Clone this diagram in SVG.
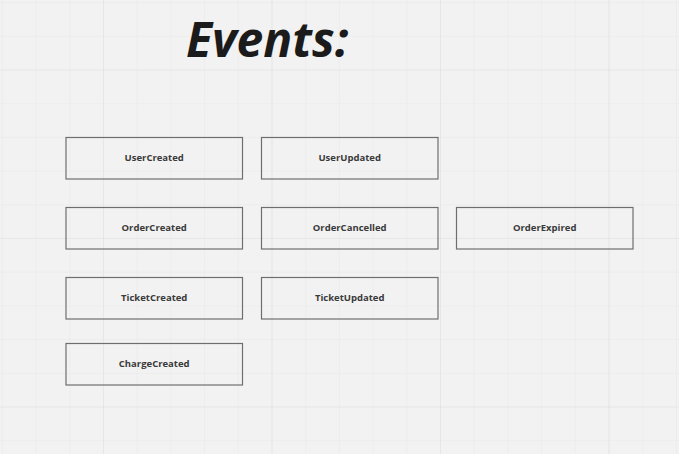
<svg xmlns="http://www.w3.org/2000/svg" width="679" height="454" viewBox="0 0 679 454">
<defs>
<pattern id="minor" x="1.9" y="2.1" width="33.7" height="33.7" patternUnits="userSpaceOnUse">
<path d="M0 0H33.7M0 0V33.7" fill="none" stroke="#e7e7e7" stroke-width="1"/>
</pattern>
<pattern id="major" x="103" y="69.5" width="168.5" height="168.5" patternUnits="userSpaceOnUse">
<path d="M0 0H168.5M0 0V168.5" fill="none" stroke="#e1e1e1" stroke-width="1.2"/>
</pattern>
</defs>
<style>
.box{fill:none;stroke:#6e6e6e;stroke-width:1.2}
.lbl{font-family:"Open Sans","Noto Sans",sans-serif;font-size:9.5px;font-weight:700;fill:#3a3a3a;text-anchor:middle;dominant-baseline:central}
.title{font-family:"Open Sans","Noto Sans",sans-serif;font-size:48px;font-weight:700;font-style:italic;fill:#1b1b1b}
</style>
<rect width="679" height="454" fill="#f2f2f2"/>
<rect width="679" height="454" fill="url(#minor)"/>
<rect width="679" height="454" fill="url(#major)"/>
<text class="title" x="186" y="57">Events:</text>
<g id="connectors"></g>
<g id="UserCreated"><rect class="box" x="66" y="137.5" width="176.5" height="41.5"/><text class="lbl" x="154.2" y="157">UserCreated</text></g>
<g id="UserUpdated"><rect class="box" x="261.5" y="137.5" width="176.5" height="41.5"/><text class="lbl" x="349.7" y="157">UserUpdated</text></g>
<g id="OrderCreated"><rect class="box" x="66" y="207.5" width="176.5" height="41.5"/><text class="lbl" x="154.2" y="227">OrderCreated</text></g>
<g id="OrderCancelled"><rect class="box" x="261.5" y="207.5" width="176.5" height="41.5"/><text class="lbl" x="349.7" y="227">OrderCancelled</text></g>
<g id="OrderExpired"><rect class="box" x="456.5" y="207.5" width="176.5" height="41.5"/><text class="lbl" x="544.7" y="227">OrderExpired</text></g>
<g id="TicketCreated"><rect class="box" x="66" y="277.5" width="176.5" height="41.5"/><text class="lbl" x="154.2" y="297">TicketCreated</text></g>
<g id="TicketUpdated"><rect class="box" x="261.5" y="277.5" width="176.5" height="41.5"/><text class="lbl" x="349.7" y="297">TicketUpdated</text></g>
<g id="ChargeCreated"><rect class="box" x="66" y="343.5" width="176.5" height="41.5"/><text class="lbl" x="154.2" y="363">ChargeCreated</text></g>
</svg>
